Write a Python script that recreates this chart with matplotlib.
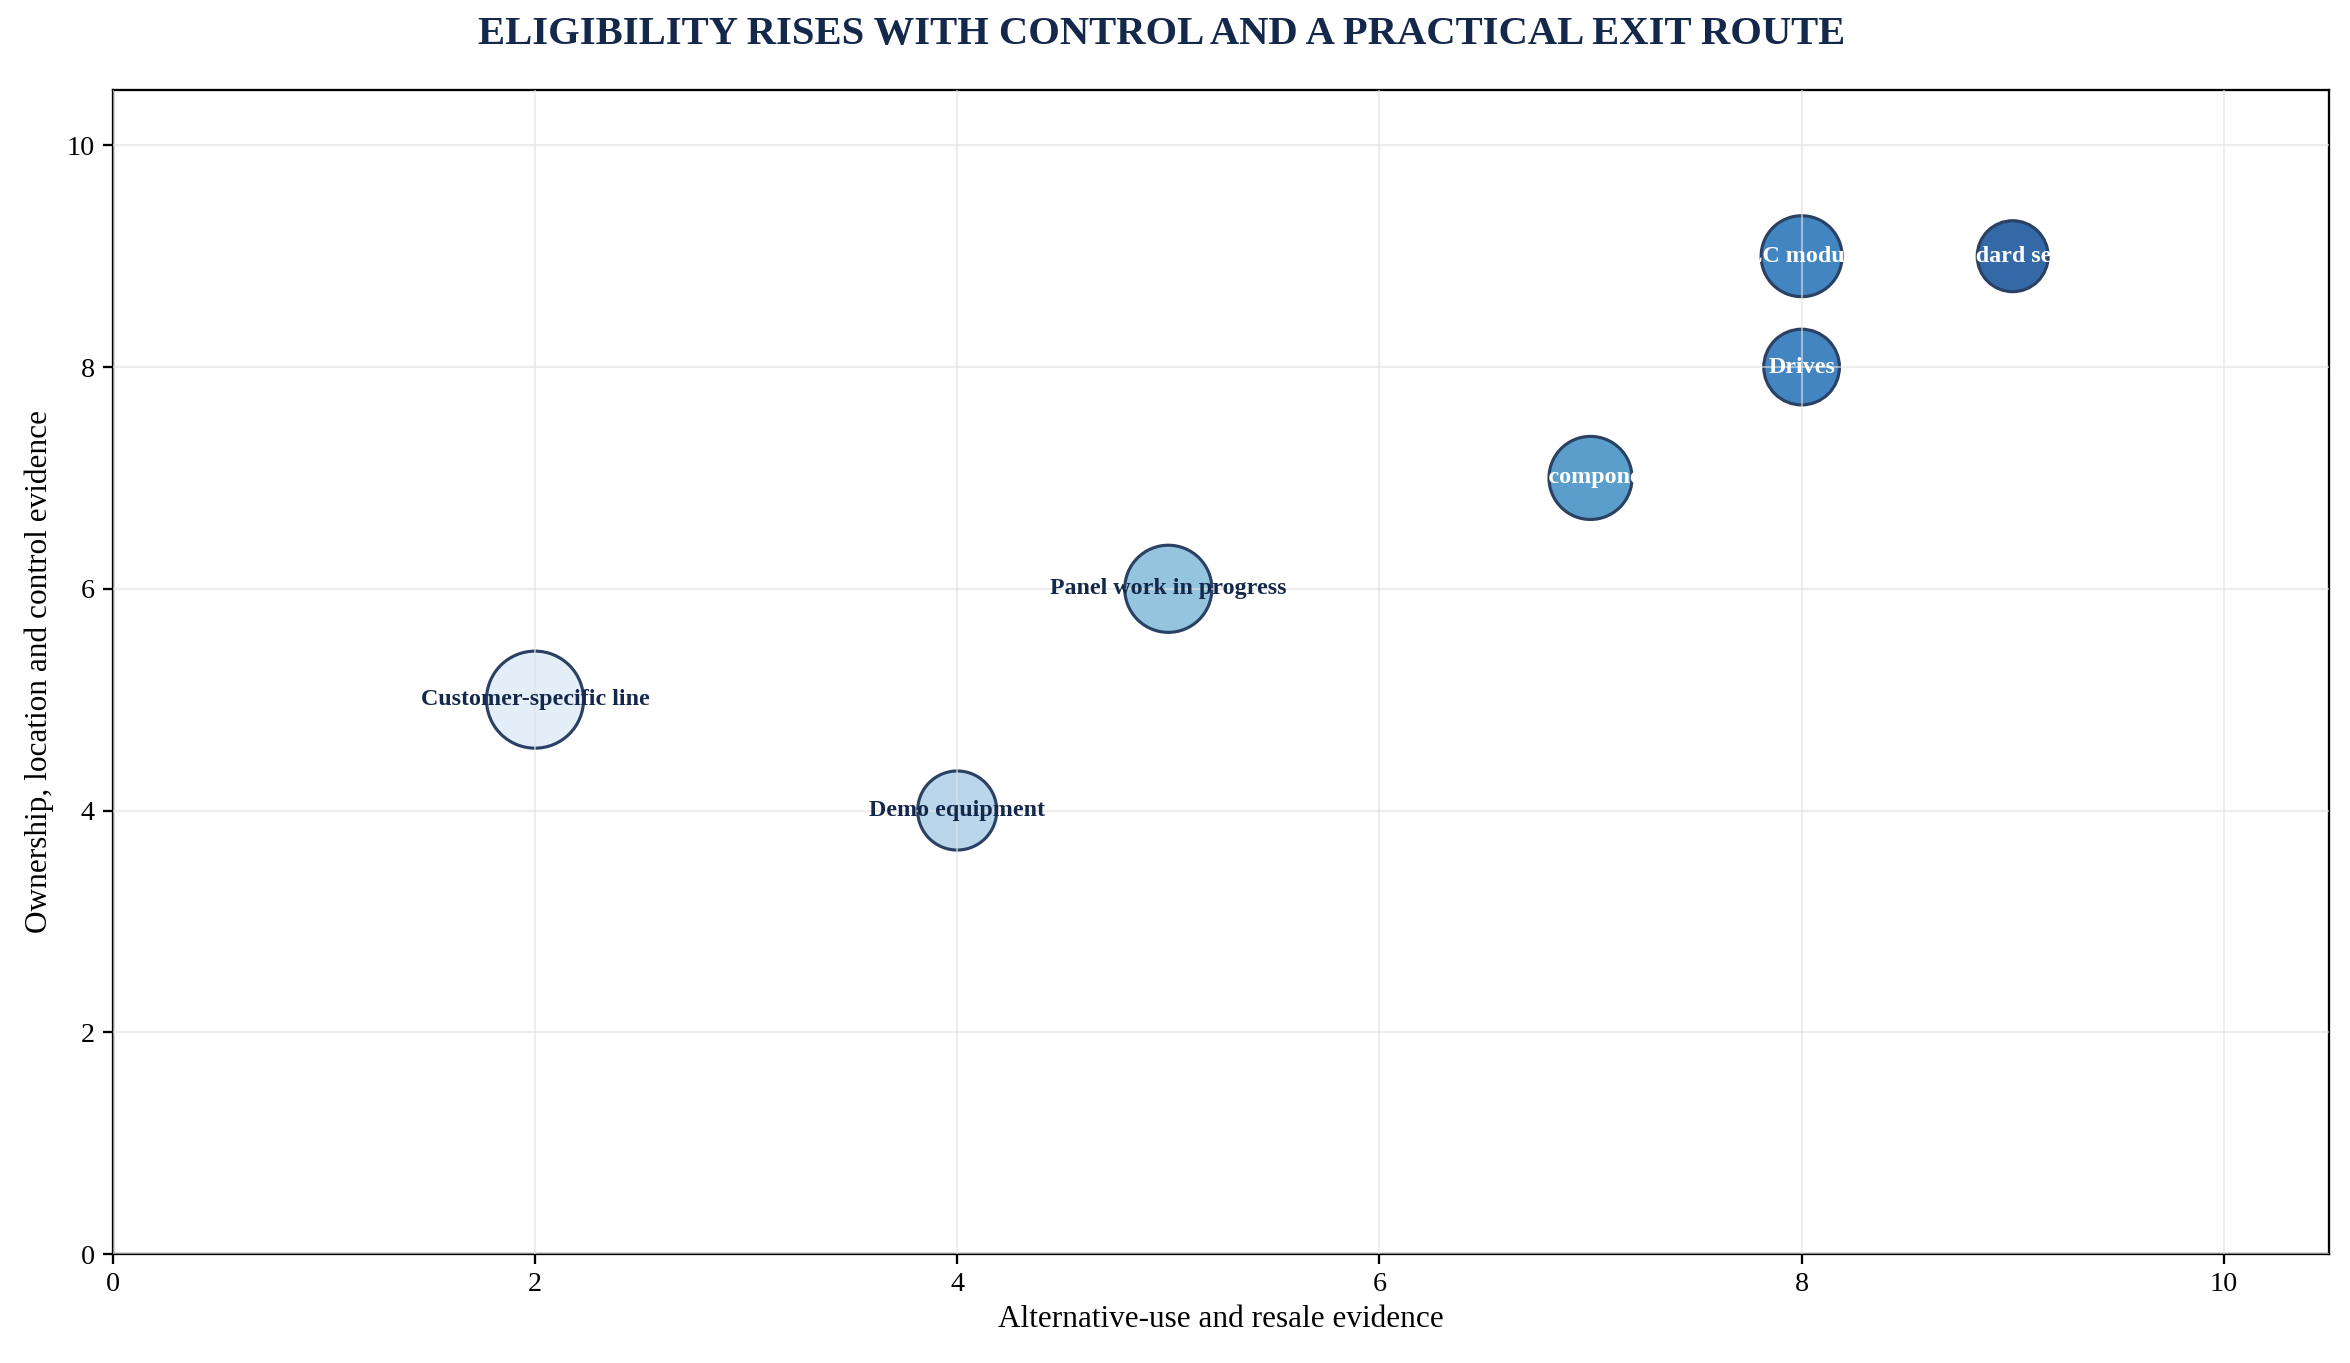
import matplotlib
matplotlib.use('Agg')
import matplotlib.pyplot as plt

# asset classes: resale evidence (x), control evidence (y), bubble size, colour
assets = ['Customer-specific line', 'Demo equipment', 'Panel work in progress',
          'Kit components', 'PLC modules', 'Drives', 'Standard servos']
resale = [2, 4, 5, 7, 8, 8, 9]
control = [5, 4, 6, 7, 9, 8, 9]
bubble = [2170, 1440, 1750, 1590, 1510, 1320, 1160]
fills = ['#e3eef9', '#b9d6ea', '#95c4df', '#5b9ecb', '#4285c1', '#4285c1', '#3469a8']
text_cols = ['#14284b', '#14284b', '#14284b', 'white', 'white', 'white', 'white']

plt.rcParams['font.family'] = ['Liberation Serif', 'DejaVu Serif']

fig, ax = plt.subplots(figsize=(15.67, 9.087), dpi=150)
fig.subplots_adjust(left=0.048, right=0.991, top=0.934, bottom=0.08)

ax.scatter(resale, control, s=bubble, c=fills, edgecolors='#2a4163',
           linewidths=1.5, zorder=1)
for name, x, y, tc in zip(assets, resale, control, text_cols):
    ax.text(x, y, name, ha='center', va='center', fontsize=11.5,
            fontweight='bold', color=tc, zorder=3)

ax.set_xlim(0, 10.5)
ax.set_ylim(0, 10.5)
ax.set_xticks([0, 2, 4, 6, 8, 10])
ax.set_yticks([0, 2, 4, 6, 8, 10])
ax.tick_params(labelsize=13.5, width=1.1, length=5)
for sp in ax.spines.values():
    sp.set_linewidth(1.1)
    sp.set_color('black')
ax.set_axisbelow(False)
ax.grid(True, color='#e2e2e2', alpha=0.6, linewidth=1)
ax.set_xlabel('Alternative-use and resale evidence', fontsize=15)
ax.set_ylabel('Ownership, location and control evidence', fontsize=15, labelpad=6)
fig.suptitle('ELIGIBILITY RISES WITH CONTROL AND A PRACTICAL EXIT ROUTE',
             x=0.494, y=0.975, va='center',
             fontsize=19.5, fontweight='bold', color='#14284b')

fig.savefig('out.png', dpi=150)
